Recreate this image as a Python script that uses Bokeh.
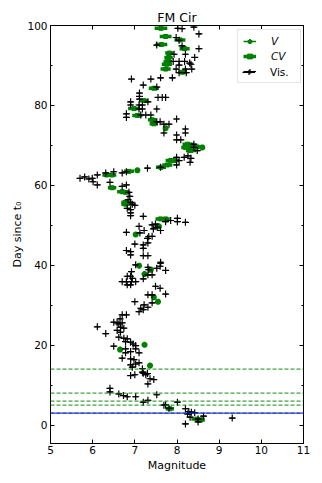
from bokeh.plotting import figure
from bokeh.models import (ColumnDataSource, Legend, LegendItem, LinearAxis,
                          Range1d, SingleIntervalTicker, Span, CustomJSTickFormatter)
from bokeh.embed import file_html
from bokeh.resources import INLINE

# ---------------- data ----------------
vis_mag = [8.02, 8.12, 8.40, 8.52, 7.98, 8.05, 8.12, 7.52, 8.52, 7.93, 8.20, 8.42, 7.91, 8.05,
           8.18, 8.30, 8.05, 8.33, 7.98, 8.20, 8.35, 8.05, 8.22, 6.92, 7.38, 7.61, 7.89, 7.20,
           7.52,
           7.11, 7.11, 7.11, 7.55, 7.65, 7.73, 6.90, 7.31, 6.90, 7.10, 7.18, 7.52, 7.10, 7.18,
           6.80, 6.80, 7.14, 7.26, 7.38, 7.99, 7.52, 7.60, 7.69, 7.81, 7.69, 8.20, 8.20, 7.99,
           7.99, 8.09, 8.40,
           8.40, 8.48, 8.26, 8.33, 8.17, 7.99, 8.05, 7.99, 8.31, 7.61, 7.30, 6.80, 6.70, 6.50,
           6.31, 6.11, 5.70, 5.81, 5.91, 5.99, 6.01, 6.11, 6.41, 6.70, 6.80, 6.86, 6.88, 6.84,
           6.90,
           6.94, 7.00, 6.82, 6.90, 6.90, 6.90, 7.20, 7.73, 7.85, 8.01, 8.01, 8.20, 7.10, 7.41,
           7.49, 7.53, 7.44, 7.61, 6.80, 7.12, 7.22, 7.33, 7.30, 7.41, 7.00, 7.20, 7.20, 7.31,
           6.80, 6.90, 6.90, 7.20, 7.31, 7.61,
           7.02, 7.31, 7.33, 7.52, 7.60, 7.61, 7.73, 7.31, 7.41, 6.92, 6.82, 6.90, 6.94, 6.70,
           6.80, 6.92, 7.02, 6.82, 6.90, 7.20, 7.49, 7.60, 7.73, 7.31, 7.41, 7.41, 7.00, 7.22,
           7.14, 7.31, 7.10, 7.20, 6.70, 6.80, 6.65, 6.58, 6.70,
           6.11, 6.50, 6.62, 6.66, 6.74, 6.58, 6.66, 6.31, 6.62, 6.74, 6.82, 6.78, 6.90, 6.96,
           6.50, 7.02,
           6.78, 6.78, 6.90, 7.02, 7.10, 6.70, 6.90, 6.98, 6.90, 7.02, 7.10, 6.94, 7.18, 7.18,
           6.90, 7.00, 7.26, 7.36, 7.45, 7.31, 7.20, 7.30,
           6.41, 6.41, 6.62, 6.73, 6.82, 7.02, 7.52, 7.20, 7.31, 7.69, 7.73, 7.81, 8.01, 8.20,
           8.25, 8.28, 8.34, 8.42, 8.31, 8.20, 8.63, 8.50, 8.50, 9.31]
vis_day = [99.3, 99.2, 99.6, 97.9, 97.0, 96.3, 94.9, 95.1, 94.2, 92.8, 92.8, 92.0, 91.0, 91.0,
           91.0, 90.6, 90.1, 90.3, 89.1, 89.1, 89.1, 88.2, 88.2, 86.6, 86.6, 86.9, 86.9, 85.1,
           84.6,
           83.1, 82.25, 81.6, 82.0, 82.0, 82.0, 80.9, 80.9, 80.1, 80.1, 80.1, 79.1, 79.1, 79.1,
           77.9, 77.0, 77.6, 77.6, 77.6, 76.6, 75.9, 75.9, 75.3, 75.3, 73.1, 74.1, 73.1, 72.6,
           71.4, 71.4, 70.3,
           69.5, 68.7, 67.4, 66.75, 67.0, 67.0, 66.2, 65.1, 65.75, 64.5, 64.3, 63.4, 63.1, 63.4,
           63.1, 62.6, 61.75, 62.1, 61.6, 61.75, 60.9, 60.1, 60.75, 59.75, 60.1, 58.25, 57.25, 56.4,
           55.75,
           55.3, 55.0, 54.25, 53.9, 53.1, 52.4, 52.25, 50.9, 51.2, 51.75, 50.9, 50.75, 49.75, 50.1,
           50.3, 49.5, 49.1, 48.7, 48.25, 48.1, 48.7, 47.2, 46.75, 47.25, 45.3, 45.1, 44.25, 45.6,
           43.7, 43.4, 42.6, 42.4, 42.4, 40.75,
           40.1, 39.5, 38.9, 39.25, 39.75, 40.5, 38.7, 37.6, 37.6, 38.4, 37.25, 37.25, 36.75, 35.9,
           35.9, 35.9, 35.9, 35.1, 35.1, 36.6, 34.75, 34.25, 32.8, 32.6, 32.6, 30.6, 30.9, 30.1,
           29.25, 29.5, 28.4, 28.9, 27.6, 27.6, 26.6, 25.6, 25.6,
           24.6, 25.75, 25.3, 24.5, 24.25, 23.7, 23.25, 22.9, 22.0, 21.75, 21.6, 20.9, 20.75, 20.3,
           19.75, 19.9,
           19.1, 18.1, 18.4, 19.1, 18.1, 16.75, 16.6, 16.4, 15.1, 15.3, 15.6, 14.5, 14.1, 13.25,
           12.4, 12.6, 12.6, 11.6, 11.4, 10.3, 13.0, 12.9,
           9.2, 8.3, 7.8, 7.4, 7.1, 7.1, 7.6, 5.75, 6.2, 5.0, 5.1, 4.2, 5.75, 4.1,
           2.8, 3.4, 3.25, 3.1, 2.0, 0.3, 2.25, 1.5, 0.8, 1.75]

cv_mag = [7.62, 7.73, 8.07, 7.63, 8.18, 7.82, 7.80, 7.78, 7.76, 7.73, 8.13, 7.45, 7.22, 6.98,
          7.06, 7.41, 7.45, 8.25, 8.33, 8.48, 8.33, 8.20, 7.85, 7.93, 7.77, 7.62, 6.86, 6.46,
          6.33, 6.46, 6.70, 6.78, 6.78, 6.78, 7.61, 7.73, 7.83, 8.48, 8.56]
cv_day = [99.3, 97.25, 96.4, 95.25, 94.2, 93.1, 92.0, 91.0, 90.3, 89.1, 88.3, 84.3, 81.2, 79.2,
          77.5, 76.4, 75.4, 70.3, 70.0, 69.6, 68.7, 69.5, 66.2, 66.2, 65.1, 64.5, 63.5, 62.6,
          62.6, 59.4, 58.4, 58.25, 55.75, 55.3, 51.6, 51.6, 4.1, 1.5, 1.25]
cv_err = [0.15, 0.14, 0.13, 0.14, 0.12, 0.10, 0.10, 0.10, 0.12, 0.12, 0.10, 0.12, 0.10, 0.14,
          0.12, 0.10, 0.10, 0.12, 0.12, 0.14, 0.12, 0.10, 0.12, 0.12, 0.12, 0.12, 0.12, 0.10,
          0.10, 0.10, 0.12, 0.10, 0.10, 0.10, 0.12, 0.10, 0.10, 0.14, 0.10]

v_mag = [7.73, 7.06, 8.60, 7.57, 7.02, 7.10, 7.38, 7.23, 7.45, 7.55, 7.23, 6.65, 7.36]
v_day = [74.3, 63.75, 69.5, 49.75, 47.7, 39.9, 38.9, 37.8, 32.0, 30.9, 20.1, 18.9, 14.9]
v_err = [0.05] * len(v_mag)

vis_err = [0.06] * len(vis_mag)

green_lines = [14, 8, 6, 5, 3]
blue_lines = [3]

FONT = "DejaVu Sans"

p = figure(width=314, height=475,
           x_range=Range1d(5, 11), y_range=Range1d(-4.6, 100),
           output_backend="svg", toolbar_location=None,
           min_border_left=50, min_border_right=11, min_border_top=25, min_border_bottom=32,
           title="FM Cir")
p.title.align = "center"
p.title.text_font = FONT
p.title.text_font_size = "12.5px"
p.title.text_font_style = "normal"
p.title.text_color = "black"
p.title.standoff = 1
p.grid.visible = False
p.outline_line_color = "black"
p.outline_line_width = 1
p.background_fill_color = "white"

bottom = p.xaxis[0]
left = p.yaxis[0]

xt = SingleIntervalTicker(interval=1, num_minor_ticks=0)
yt = SingleIntervalTicker(interval=20, num_minor_ticks=2)
bottom.ticker = xt
left.ticker = yt

blank = CustomJSTickFormatter(code="return ''")
top = LinearAxis(ticker=xt, formatter=blank)
right = LinearAxis(ticker=yt, formatter=blank)
p.add_layout(top, "above")
p.add_layout(right, "right")

for ax in [bottom, left, top, right]:
    ax.major_tick_in = 4
    ax.major_tick_out = 0
    ax.minor_tick_in = 2
    ax.minor_tick_out = 0
    ax.axis_line_color = "black"
    ax.major_tick_line_color = "black"
    ax.minor_tick_line_color = "black"
    ax.major_label_text_font = FONT
    ax.major_label_text_font_size = "10.5px"
    ax.major_label_text_color = "black"
    ax.axis_label_text_font = FONT
    ax.axis_label_text_font_size = "11px"
    ax.axis_label_text_font_style = "normal"
    ax.axis_label_text_color = "black"
for ax in [top, right]:
    ax.major_label_standoff = 0

bottom.axis_label = "Magnitude"
left.axis_label = "Day since t\u2080"
bottom.major_label_standoff = 2
bottom.axis_label_standoff = 2
left.major_label_standoff = 3
left.axis_label_standoff = 0

for d in green_lines:
    p.add_layout(Span(location=d, dimension="width", line_color="green",
                      line_dash="4 2", line_width=1.3, line_alpha=0.75))
for d in blue_lines:
    p.add_layout(Span(location=d, dimension="width", line_color="blue",
                      line_width=1.3, line_alpha=0.75))

vis_src = ColumnDataSource(dict(x=vis_mag, y=vis_day,
                                x0=[m - e for m, e in zip(vis_mag, vis_err)],
                                x1=[m + e for m, e in zip(vis_mag, vis_err)]))
cv_src = ColumnDataSource(dict(x=cv_mag, y=cv_day,
                               x0=[m - e for m, e in zip(cv_mag, cv_err)],
                               x1=[m + e for m, e in zip(cv_mag, cv_err)]))
v_src = ColumnDataSource(dict(x=v_mag, y=v_day,
                              x0=[m - e for m, e in zip(v_mag, v_err)],
                              x1=[m + e for m, e in zip(v_mag, v_err)]))

cv_err_r = p.segment("x0", "y", "x1", "y", source=cv_src, line_color="green", line_width=3.5)
cv_pts = p.scatter("x", "y", source=cv_src, marker="square", size=4, color="green")
v_err_r = p.segment("x0", "y", "x1", "y", source=v_src, line_color="green", line_width=1.5)
v_pts = p.scatter("x", "y", source=v_src, marker="asterisk", size=6, line_color="green",
                  line_width=2)
vis_err_r = p.segment("x0", "y", "x1", "y", source=vis_src, line_color="black", line_width=1.1)
vis_pts = p.scatter("x", "y", source=vis_src, marker="cross", size=7, line_color="black",
                    line_width=1.2)

leg_common = dict(padding=5, spacing=3, glyph_width=13, glyph_height=12, label_height=12,
                  label_standoff=15, label_text_font=FONT, label_text_font_size="10.5px",
                  label_text_color="black", margin=0, location=(187, 360))
leg1 = Legend(items=[LegendItem(label="V", renderers=[v_err_r, v_pts]),
                     LegendItem(label="CV", renderers=[cv_err_r, cv_pts]),
                     LegendItem(label=" ", renderers=[vis_err_r, vis_pts])],
              label_text_font_style="italic", label_width=24,
              border_line_color="#cccccc", border_line_width=1,
              background_fill_alpha=0.85, **leg_common)
leg2 = Legend(items=[LegendItem(label="Vis.", renderers=[vis_err_r, vis_pts])],
              label_text_font_style="normal", border_line_alpha=0,
              background_fill_alpha=0, **leg_common)
p.add_layout(leg1, "center")
p.add_layout(leg2, "center")

open("out.html", "w").write(file_html(p, INLINE))
